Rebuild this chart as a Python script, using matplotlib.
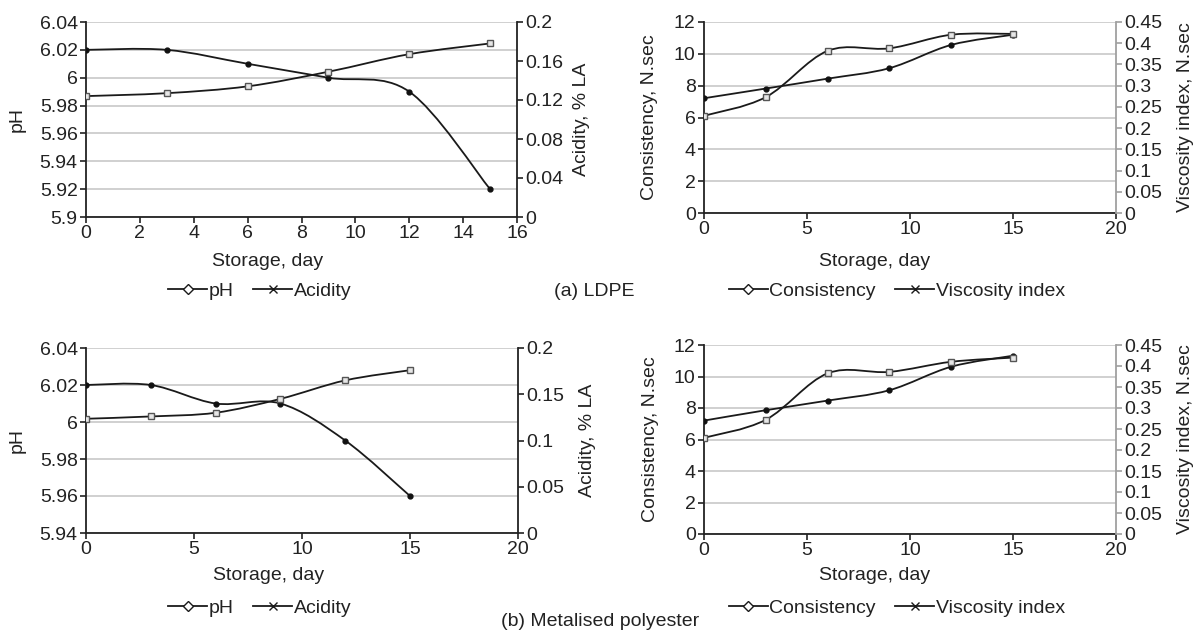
import numpy as np
import matplotlib
matplotlib.use('Agg')
import matplotlib.pyplot as plt
from matplotlib.path import Path
from matplotlib.patches import PathPatch
from matplotlib.lines import Line2D
from matplotlib.ticker import FuncFormatter

plt.rcParams['font.family'] = ['Liberation Sans', 'DejaVu Sans']
plt.rcParams['font.size'] = 14
plt.rcParams['text.color'] = '#222222'
plt.rcParams['axes.labelcolor'] = '#222222'
plt.rcParams['xtick.color'] = '#222222'
plt.rcParams['ytick.color'] = '#222222'

days = [0, 3, 6, 9, 12, 15]

# (a) LDPE
ph_ldpe = [6.02, 6.02, 6.01, 6.00, 5.99, 5.92]
acid_ldpe = [0.124, 0.127, 0.134, 0.149, 0.167, 0.178]
cons_ldpe = [7.21, 7.82, 8.44, 9.10, 10.56, 11.2]
visc_ldpe = [0.229, 0.273, 0.382, 0.388, 0.420, 0.422]

# (b) Metalised polyester
ph_met = [6.02, 6.02, 6.01, 6.01, 5.99, 5.96]
acid_met = [0.1235, 0.126, 0.130, 0.145, 0.165, 0.176]
cons_met = [7.20, 7.86, 8.47, 9.13, 10.62, 11.32]
visc_met = [0.229, 0.272, 0.3825, 0.386, 0.410, 0.420]

W, H = 1196, 634
fig = plt.figure(figsize=(W / 100, H / 100), dpi=100)
fig.patch.set_facecolor('white')


def box(l, r, t, b):
    return [l / W, 1 - b / H, (r - l) / W, (b - t) / H]


def fmt(v, p):
    return f'{round(v, 3):g}'


def smooth(ax, x, y, **kw):
    # smoothed line like a spreadsheet chart: cubic bezier through the points
    pts = np.column_stack([x, y]).astype(float)
    verts = [pts[0]]
    codes = [Path.MOVETO]
    n = len(pts)
    for i in range(n - 1):
        p0 = pts[max(i - 1, 0)]
        p1 = pts[i]
        p2 = pts[i + 1]
        p3 = pts[min(i + 2, n - 1)]
        c1 = p1 + (p2 - p0) / 6
        c2 = p2 - (p3 - p1) / 6
        verts += [c1, c2, p2]
        codes += [Path.CURVE4] * 3
    ax.add_patch(PathPatch(Path(verts, codes), fill=False, transform=ax.transData, **kw))


def panel(px, x, y1, y2, xmax, xstep, y1lim, y1step, y2lim, y2step,
          y1label, y2label, grey_right, lab_x, xlab_y):
    l, r, t, b = px
    ax = fig.add_axes(box(l, r, t, b))
    w, h = r - l, b - t
    ax.set_xlim(0, xmax)
    ax.set_ylim(*y1lim)
    ax.set_xticks(np.arange(0, xmax + 0.01, xstep))
    ax.set_yticks(np.arange(y1lim[0], y1lim[1] + 1e-9, y1step))
    ax.yaxis.set_major_formatter(FuncFormatter(fmt))
    ax.grid(axis='y', color='#c8c8c8', linewidth=1.2)
    ax.set_axisbelow(True)
    for s in ['top', 'right']:
        ax.spines[s].set_visible(False)
    for s in ['left', 'bottom']:
        ax.spines[s].set_linewidth(1.3)
        ax.spines[s].set_color('#222222')
    ax.tick_params(length=4, width=1.2, pad=2)
    ax.set_xlabel('Storage, day')
    ax.xaxis.set_label_coords(lab_x[2], (b - xlab_y) / h)
    ax.xaxis.label.set_va('center')
    ax.set_ylabel(y1label)
    ax.yaxis.set_label_coords((lab_x[0] - l) / w, 0.5)
    ax.yaxis.label.set_va('center')

    ax2 = ax.twinx()
    ax2.set_ylim(*y2lim)
    ax2.set_yticks(np.arange(y2lim[0], y2lim[1] + 1e-9, y2step))
    ax2.yaxis.set_major_formatter(FuncFormatter(fmt))
    for s in ['top', 'left', 'bottom']:
        ax2.spines[s].set_visible(False)
    rc = '#a0a0a0' if grey_right else '#222222'
    ax2.spines['right'].set_color(rc)
    ax2.spines['right'].set_linewidth(1.3)
    ax2.tick_params(length=4, width=1.2, pad=2, color=rc)
    ax2.set_ylabel(y2label)
    ax2.yaxis.set_label_coords((lab_x[1] - l) / w, 0.5)
    ax2.yaxis.label.set_va('center')

    smooth(ax, x, y1, edgecolor='#1a1a1a', linewidth=1.3, zorder=3)
    ax.plot(x, y1, linestyle='none', marker='o', markersize=3.5,
            color='#111111', zorder=4)
    smooth(ax2, x, y2, edgecolor='#1a1a1a', linewidth=1.3, zorder=3)
    ax2.plot(x, y2, linestyle='none', marker='s', markersize=5,
             markerfacecolor='#e6e6e6', markeredgecolor='#555555',
             markeredgewidth=1.0, zorder=4)
    return ax, ax2


panel((86, 517, 22, 217), days, ph_ldpe, acid_ldpe, 16, 2,
      (5.9, 6.04), 0.02, (0, 0.2), 0.04, 'pH', 'Acidity, % LA', False,
      (17, 581, 0.422), 262)
panel((86, 518, 348, 533), days, ph_met, acid_met, 20, 5,
      (5.94, 6.04), 0.02, (0, 0.2), 0.05, 'pH', 'Acidity, % LA', False,
      (17, 587, 0.422), 576)
panel((704, 1116, 22, 213), days, cons_ldpe, visc_ldpe, 20, 5,
      (0, 12), 2, (0, 0.45), 0.05, 'Consistency, N.sec', 'Viscosity index, N.sec', True,
      (649, 1186, 0.415), 262)
panel((704, 1116, 345, 534), days, cons_met, visc_met, 20, 5,
      (0, 12), 2, (0, 0.45), 0.05, 'Consistency, N.sec', 'Viscosity index, N.sec', True,
      (650, 1186, 0.415), 576)


def legend(labels, cx, cy):
    h = [Line2D([], [], color='#1a1a1a', lw=1.3, marker='D', markersize=5,
                markerfacecolor='white', markeredgecolor='#1a1a1a'),
         Line2D([], [], color='#1a1a1a', lw=1.3, marker='x', markersize=6,
                markeredgecolor='#1a1a1a')]
    fig.legend(h, labels, loc='center', bbox_to_anchor=(cx / W, 1 - cy / H),
               ncol=2, frameon=False, handlelength=2.0, handletextpad=0.1,
               columnspacing=1.0, fontsize=14)


legend(['pH', 'Acidity'], 260, 291)
legend(['Consistency', 'Viscosity index'], 897, 291)
legend(['pH', 'Acidity'], 260, 608)
legend(['Consistency', 'Viscosity index'], 897, 608)

fig.text(594 / W, 1 - 291 / H, '(a) LDPE', ha='center', va='center', fontsize=14)
fig.text(600 / W, 1 - 622 / H, '(b) Metalised polyester', ha='center', va='center', fontsize=14)

fig.savefig('out.png', dpi=100, facecolor='white')
